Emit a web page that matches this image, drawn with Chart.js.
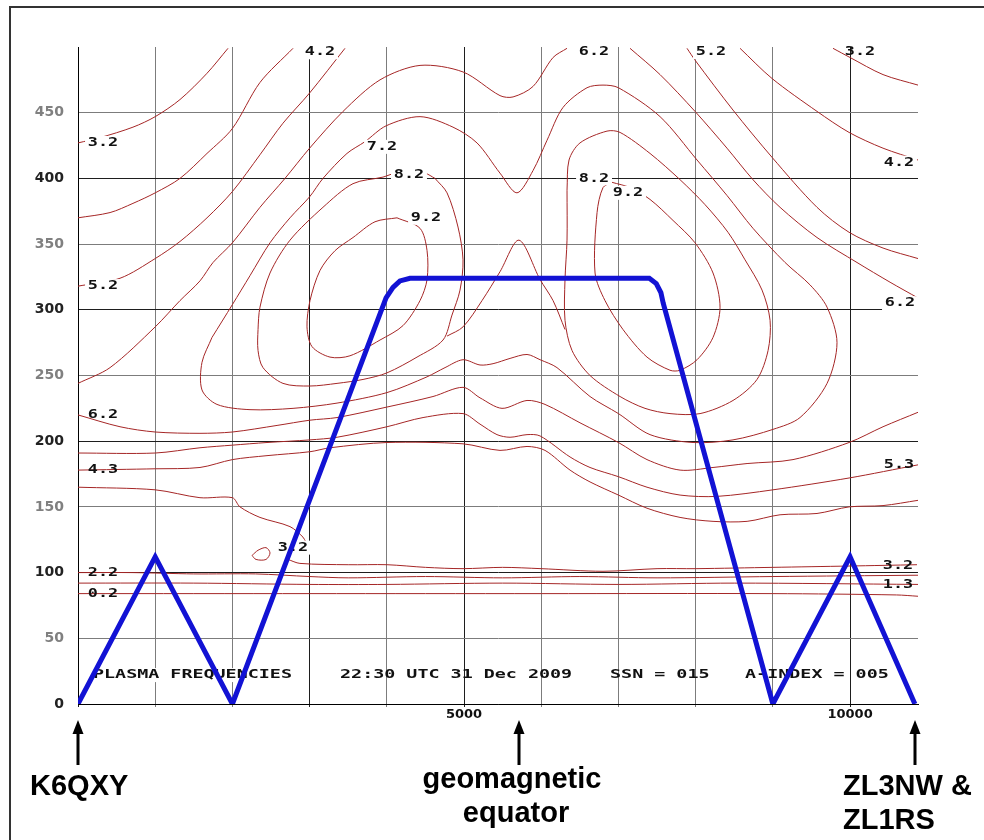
<!DOCTYPE html>
<html>
<head>
<meta charset="utf-8">
<script src="https://cdn.jsdelivr.net/npm/chart.js@4.4.1/dist/chart.umd.min.js"></script>
<style>
  html, body { margin: 0; padding: 0; background: #fff; }
  #wrap { width: 984px; height: 840px; }
</style>
</head>
<body>
<div id="wrap"><canvas id="chart" width="984" height="840"></canvas></div>
<script>
// distance along the path (km) / height (km)
const xTicks = [0, 1000, 2000, 3000, 4000, 5000, 6000, 7000, 8000, 9000, 10000];
const xLabels = [5000, 10000];
const yTicks = [0, 50, 100, 150, 200, 250, 300, 350, 400, 450];

// ray path
const rayPath = [[0,0],[1000,112],[2000,0],[3990,309],[4080,317],[4170,322],[4300,324],[7400,324],[7490,320],[7550,313],[7580,305],[9000,0],[10000,112],[10840,0]];

// plasma frequency contours (MHz)
const c32TopLeft = [[0,427],[285,431],[712,439],[1000,447],[1321,460],[1671,480],[1943,499]];
const c42TopLeft = [[0,370],[415,374],[712,381],[1000,389],[1321,400],[1671,419],[2000,438],[2357,473],[2785,499]];
const c52TopLeft = [[0,318],[544,324],[1000,339],[1321,352],[1671,370],[2000,390],[2357,418],[2655,442],[3000,465],[3458,499]];
const c62Upper = [[0,244],[415,256],[1000,287],[1321,307],[1580,322],[1749,336],[2000,351],[2357,378],[2681,400],[3000,423],[3433,451],[3912,475],[4430,486],[4987,481],[5466,463],[5635,462],[5894,470],[6153,492],[6334,499]];
const c62Right = [[7150,499],[7539,479],[7992,451],[8406,423],[8743,399],[9093,378],[9572,355],[10090,336],[10518,321],[10880,309]];
const c52Right = [[7888,499],[7992,490],[8484,452],[8990,416],[9572,378],[9987,359],[10427,347],[10880,339]];
const c42Right = [[8575,499],[8990,476],[9572,451],[9987,435],[10427,423],[10880,414]];
const c32Right = [[9779,499],[10000,492],[10427,479],[10880,471]];
const c72 = [[1736,279],[2000,304],[2228,326],[2487,351],[2746,370],[3000,386],[3173,400],[3484,419],[3718,428],[3990,440],[4430,447],[4857,439],[5168,427],[5466,404],[5686,389],[5894,406],[6075,429],[6282,454],[6593,469],[6800,471],[7000,469],[7539,447],[8018,414],[8406,387],[8743,362],[9158,336],[9481,319],[9702,302],[9831,275],[9702,244],[9352,218],[9002,209],[8484,201],[7966,199],[7409,205],[7000,221],[6632,234],[6204,256],[5985,262],[5816,266],[5596,263],[5376,259],[5207,258],[4987,262],[4754,256],[4521,249],[4002,237],[3355,229],[2785,225],[2228,224],[1800,228],[1606,239],[1606,260],[1736,279]];
const c82Left = [[4624,400],[4780,389],[4922,363],[4987,338],[4948,315],[4844,296],[4728,277],[4391,264],[4002,252],[3692,247],[3355,244],[3005,242],[2655,244],[2396,256],[2332,269],[2332,285],[2357,302],[2487,328],[2746,353],[3173,378],[3562,396],[3951,401],[4106,404],[4300,405],[4495,404],[4624,400]];
const c82Saddle = [[4780,280],[4987,287],[5233,307],[5466,329],[5712,353],[5985,323],[6153,307],[6308,285]];
const c82Right = [[6334,391],[6360,414],[6502,427],[6852,436],[7021,435],[7409,419],[7798,399],[8122,380],[8419,359],[8640,338],[8860,315],[8964,292],[8938,269],[8795,247],[8484,231],[8057,221],[7668,221],[7344,225],[7021,234],[6632,250],[6399,269],[6308,292],[6308,323],[6334,353],[6334,391]];
const c92Left = [[4132,370],[4430,362],[4521,345],[4521,323],[4430,307],[4210,288],[3912,277],[3523,265],[3264,264],[3031,272],[2966,287],[3005,307],[3135,330],[3329,345],[3562,355],[3847,367],[4132,370]];
const c92Right = [[6917,397],[7150,393],[7409,384],[7707,368],[7992,351],[8225,328],[8316,302],[8225,279],[8018,262],[7798,254],[7668,254],[7370,264],[7059,285],[6826,307],[6697,328],[6723,374],[6800,393],[6917,397]];
const c62Lower = [[0,220],[544,211],[1000,207],[1580,206],[2000,207],[2578,212],[3005,216],[3355,218],[4002,226],[4598,234],[4987,241],[5207,233],[5492,225],[5816,231],[6049,228],[6502,214],[7000,199],[7370,186],[7798,178],[8225,180],[8666,183],[9261,186],[9987,199],[10427,211],[10880,222]];
const c52Lower = [[0,191],[1000,191],[1580,195],[2000,197],[2448,199],[3005,201],[3355,203],[4002,211],[4469,218],[4987,221],[5207,213],[5427,205],[5596,203],[5816,205],[5985,204],[6373,188],[6632,180],[7000,173],[7370,165],[7798,159],[8277,158],[9002,163],[9987,172],[10880,182]];
const c42Lower = [[0,178],[1000,179],[1580,180],[2000,186],[2448,189],[3005,192],[3264,195],[4002,199],[4987,198],[5466,193],[5816,196],[6049,193],[6373,178],[6632,169],[7000,159],[7370,149],[7798,142],[8225,139],[8666,139],[9093,144],[9572,145],[9987,150],[10427,151],[10880,155]];
const c32Lower = [[0,165],[1000,163],[1580,157],[2000,157],[2098,150],[2357,142],[2746,135],[2914,127],[2953,123]];
const c32E = [[2720,110],[2875,107],[3500,106],[4002,106],[4500,104],[4987,103],[5500,104],[5997,103],[6800,101],[7500,103],[8005,103],[9002,104],[9987,105],[10867,106]];
const c32Loop = [[2254,113],[2332,117],[2435,119],[2487,115],[2435,110],[2306,110],[2254,113]];
const c22 = [[0,100],[700,100],[1500,99],[2300,99],[3000,97],[3500,96],[4500,97],[5500,96],[6500,97],[7500,96],[9000,97],[10880,98]];
const c12 = [[0,92],[1500,92],[3000,91],[4000,91],[5500,92],[7000,91],[8500,92],[10880,91]];
const c02 = [[0,84],[3000,84],[6000,84],[9000,84],[10600,83],[10880,82]];

const contours = [c32TopLeft, c42TopLeft, c52TopLeft, c62Upper, c62Right, c52Right, c42Right, c32Right,
  c72, c82Left, c82Saddle, c82Right, c92Left, c92Right, c62Lower, c52Lower, c42Lower, c32Lower,
  c32E, c32Loop, c22, c12, c02];

// contour labels
const labelText = ['3.2','5.2','6.2','4.3','2.2','0.2','4.2','6.2','5.2','3.2','7.2','8.2','9.2','8.2','9.2','4.2','6.2','5.3','3.2','1.3','3.2'];
const labelX = [324,324,324,324,324,324,3135,6684,8199,10129,3938,4287,4508,6684,7124,10634,10647,10634,10621,10621,2785];
const labelY = [427,318,220,178,100,84,496,496,496,496,424,403,370,400,389,412,305,182,105,91,119];
const labelBoxed = [1,1,0,0,0,0,1,1,1,0,1,1,1,1,1,1,1,0,0,0,1];

const footerText = ['PLASMA FREQUENCIES', '22:30 UTC 31 Dec 2009', 'SSN = 015', 'A-INDEX = 005'];
const footerX = [194, 3394, 6891, 8640];
const footerY = 22;

const stationX = [0, 5712, 10840];

const darkX = [0, 3000, 5000, 10000];

const contourSets = contours.map(c => ({
  data: c.map(p => ({x: p[0], y: p[1]})),
  showLine: true,
  borderColor: '#a52626',
  borderWidth: 1,
  pointRadius: 0,
  tension: 0.3,
  order: 1
}));
const raySet = {
  data: rayPath.map(p => ({x: p[0], y: p[1]})),
  showLine: true,
  borderColor: '#1212d4',
  borderWidth: 5,
  pointRadius: 0,
  tension: 0,
  order: 0
};
const rayIndex = contourSets.length;

function stretchText(ctx, txt, x, y, sx, align, boxed) {
  ctx.save();
  ctx.translate(x, y);
  ctx.scale(sx, 1);
  ctx.font = 'bold 12px "DejaVu Sans Mono"';
  ctx.textBaseline = 'middle';
  const w = ctx.measureText(txt).width;
  const left = align === 'center' ? -w / 2 : 0;
  if (boxed) {
    ctx.fillStyle = '#fff';
    ctx.fillRect(left - 2, -7, w + 4, 14);
  }
  ctx.fillStyle = '#111';
  ctx.textAlign = 'left';
  ctx.fillText(txt, left, 0);
  ctx.restore();
}

const labelPlugin = {
  id: 'labels',
  beforeDatasetDraw(chart, args) {
    if (args.index !== rayIndex) return;
    const ctx = chart.ctx;
    const xs = chart.scales.x, ys = chart.scales.y;
    ctx.save();
    for (let i = 0; i < labelText.length; i++) {
      stretchText(ctx, labelText[i], xs.getPixelForValue(labelX[i]), ys.getPixelForValue(labelY[i]), 1.4, 'center', labelBoxed[i]);
    }
    for (let i = 0; i < footerText.length; i++) {
      stretchText(ctx, footerText[i], xs.getPixelForValue(footerX[i]), ys.getPixelForValue(footerY), 1.53, 'left', i === 0);
    }
    ctx.restore();
  },
  afterDraw(chart) {
    const ctx = chart.ctx;
    const xs = chart.scales.x;
    ctx.save();
    // frame
    ctx.strokeStyle = '#333';
    ctx.lineWidth = 2;
    ctx.beginPath();
    ctx.moveTo(10, 840);
    ctx.lineTo(10, 7);
    ctx.lineTo(984, 7);
    ctx.stroke();
    // arrows
    ctx.fillStyle = '#000';
    stationX.forEach(v => {
      const px = Math.round(xs.getPixelForValue(v));
      ctx.fillRect(px - 1.5, 732, 3, 33);
      ctx.beginPath();
      ctx.moveTo(px, 720);
      ctx.lineTo(px - 5.5, 734);
      ctx.lineTo(px + 5.5, 734);
      ctx.closePath();
      ctx.fill();
    });
    ctx.font = 'bold 29px "Liberation Sans", Arial, sans-serif';
    ctx.textBaseline = 'alphabetic';
    ctx.textAlign = 'left';
    ctx.fillText('K6QXY', 30, 795);
    ctx.fillText('ZL3NW &', 843, 795);
    ctx.fillText('ZL1RS', 843, 829);
    ctx.textAlign = 'center';
    ctx.fillText('geomagnetic', 512, 788);
    ctx.fillText('equator', 516, 822);
    ctx.restore();
  }
};

new Chart(document.getElementById('chart'), {
  type: 'scatter',
  data: { datasets: [...contourSets, raySet] },
  options: {
    responsive: false,
    devicePixelRatio: 1,
    animation: false,
    layout: { padding: { left: 0, top: 47, right: 66, bottom: 116 } },
    plugins: { legend: { display: false }, tooltip: { enabled: false } },
    scales: {
      x: {
        type: 'linear',
        min: 0,
        max: 10880,
        afterBuildTicks: s => { s.ticks = xTicks.map(v => ({ value: v })); },
        afterFit: s => { s.height = 20; },
        border: { display: true, color: '#000', width: 1 },
        grid: {
          color: c => darkX.includes(c.tick.value) ? '#1e1e1e' : '#7c7c7c',
          lineWidth: 1,
          tickLength: 3,
          drawTicks: true
        },
        ticks: {
          autoSkip: false,
          maxRotation: 0,
          padding: 0,
          color: '#111',
          font: { family: 'DejaVu Sans', weight: 'bold', size: 13 },
          callback: v => xLabels.includes(v) ? String(v) : ''
        }
      },
      y: {
        type: 'linear',
        min: 0,
        max: 500,
        afterBuildTicks: s => { s.ticks = yTicks.map(v => ({ value: v })); },
        afterFit: s => { s.width = 78; },
        border: { display: true, color: '#000', width: 1 },
        grid: {
          color: c => c.tick.value % 100 === 0 ? '#1e1e1e' : '#7c7c7c',
          lineWidth: 1,
          drawTicks: false
        },
        ticks: {
          padding: 14,
          color: c => c.tick.value % 100 === 0 ? '#222' : '#808080',
          font: { family: 'DejaVu Sans', weight: 'bold', size: 14 }
        }
      }
    }
  },
  plugins: [labelPlugin]
});
</script>
</body>
</html>
